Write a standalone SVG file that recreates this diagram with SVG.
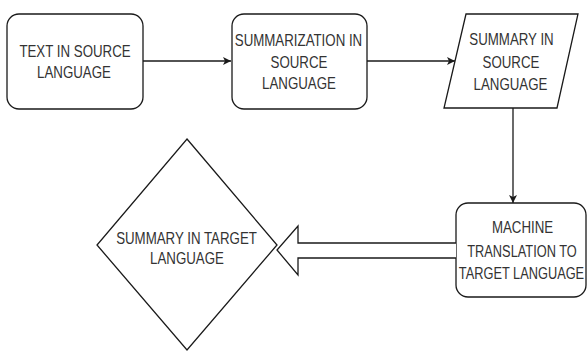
<svg xmlns="http://www.w3.org/2000/svg" width="587" height="358" viewBox="0 0 587 358">
<style>
.s{fill:#fff;stroke:#1a1a1a;stroke-width:1.3}
.t{font-family:"Liberation Sans",Arial,sans-serif;font-size:13.3px;fill:#333;text-anchor:middle}
.c{fill:none;stroke:#1a1a1a;stroke-width:1.3}
</style>
<defs>
<marker id="ah" markerWidth="10" markerHeight="10" refX="9" refY="5" orient="auto" markerUnits="userSpaceOnUse">
<path d="M1,1 L9,5 L1,9 L3,5 Z" fill="#1a1a1a"/>
</marker>
</defs>
<rect width="587" height="358" fill="#fff"/>
<g id="connectors">
<line class="c" x1="143" y1="61" x2="231" y2="61" marker-end="url(#ah)"/>
<line class="c" x1="367" y1="61" x2="455" y2="61" marker-end="url(#ah)"/>
<line class="c" x1="513" y1="108" x2="513" y2="203" marker-end="url(#ah)"/>
</g>
<g id="n1">
<rect class="s" x="7" y="14" width="136" height="95" rx="12"/>
<text class="t" transform="translate(75,56.5) scale(1,1.3)">TEXT IN SOURCE</text>
<text class="t" transform="translate(74,78) scale(1,1.3)">LANGUAGE</text>
</g>
<g id="n2">
<rect class="s" x="232" y="14" width="135" height="95" rx="12"/>
<text class="t" transform="translate(298.5,46) scale(1,1.3)">SUMMARIZATION IN</text>
<text class="t" transform="translate(299,68) scale(1,1.3)">SOURCE</text>
<text class="t" transform="translate(299,89) scale(1,1.3)">LANGUAGE</text>
</g>
<g id="n3">
<polygon class="s" points="466,14 578,14 557,108 444,108"/>
<text class="t" transform="translate(511.5,45) scale(1,1.3)">SUMMARY IN</text>
<text class="t" transform="translate(511,68) scale(1,1.3)">SOURCE</text>
<text class="t" transform="translate(510.5,90) scale(1,1.3)">LANGUAGE</text>
</g>
<g id="n4">
<rect class="s" x="456" y="203" width="130" height="94" rx="12"/>
<text class="t" transform="translate(522.5,233) scale(1,1.3)">MACHINE</text>
<text class="t" transform="translate(522,257) scale(1,1.3)" style="font-size:12.8px">TRANSLATION TO</text>
<text class="t" transform="translate(521.5,279) scale(1,1.3)" style="font-size:12.8px">TARGET LANGUAGE</text>
</g>
<g id="n5">
<polygon class="s" points="187,139 277,245 187,350 97,245"/>
<text class="t" transform="translate(186.5,244) scale(1,1.3)">SUMMARY IN TARGET</text>
<text class="t" transform="translate(187,263.5) scale(1,1.3)">LANGUAGE</text>
</g>
<g id="flow">
<path class="s" d="M456,243 L298,243 L298,226 L277,250 L298,275 L298,258 L456,258"/>
</g>
</svg>
